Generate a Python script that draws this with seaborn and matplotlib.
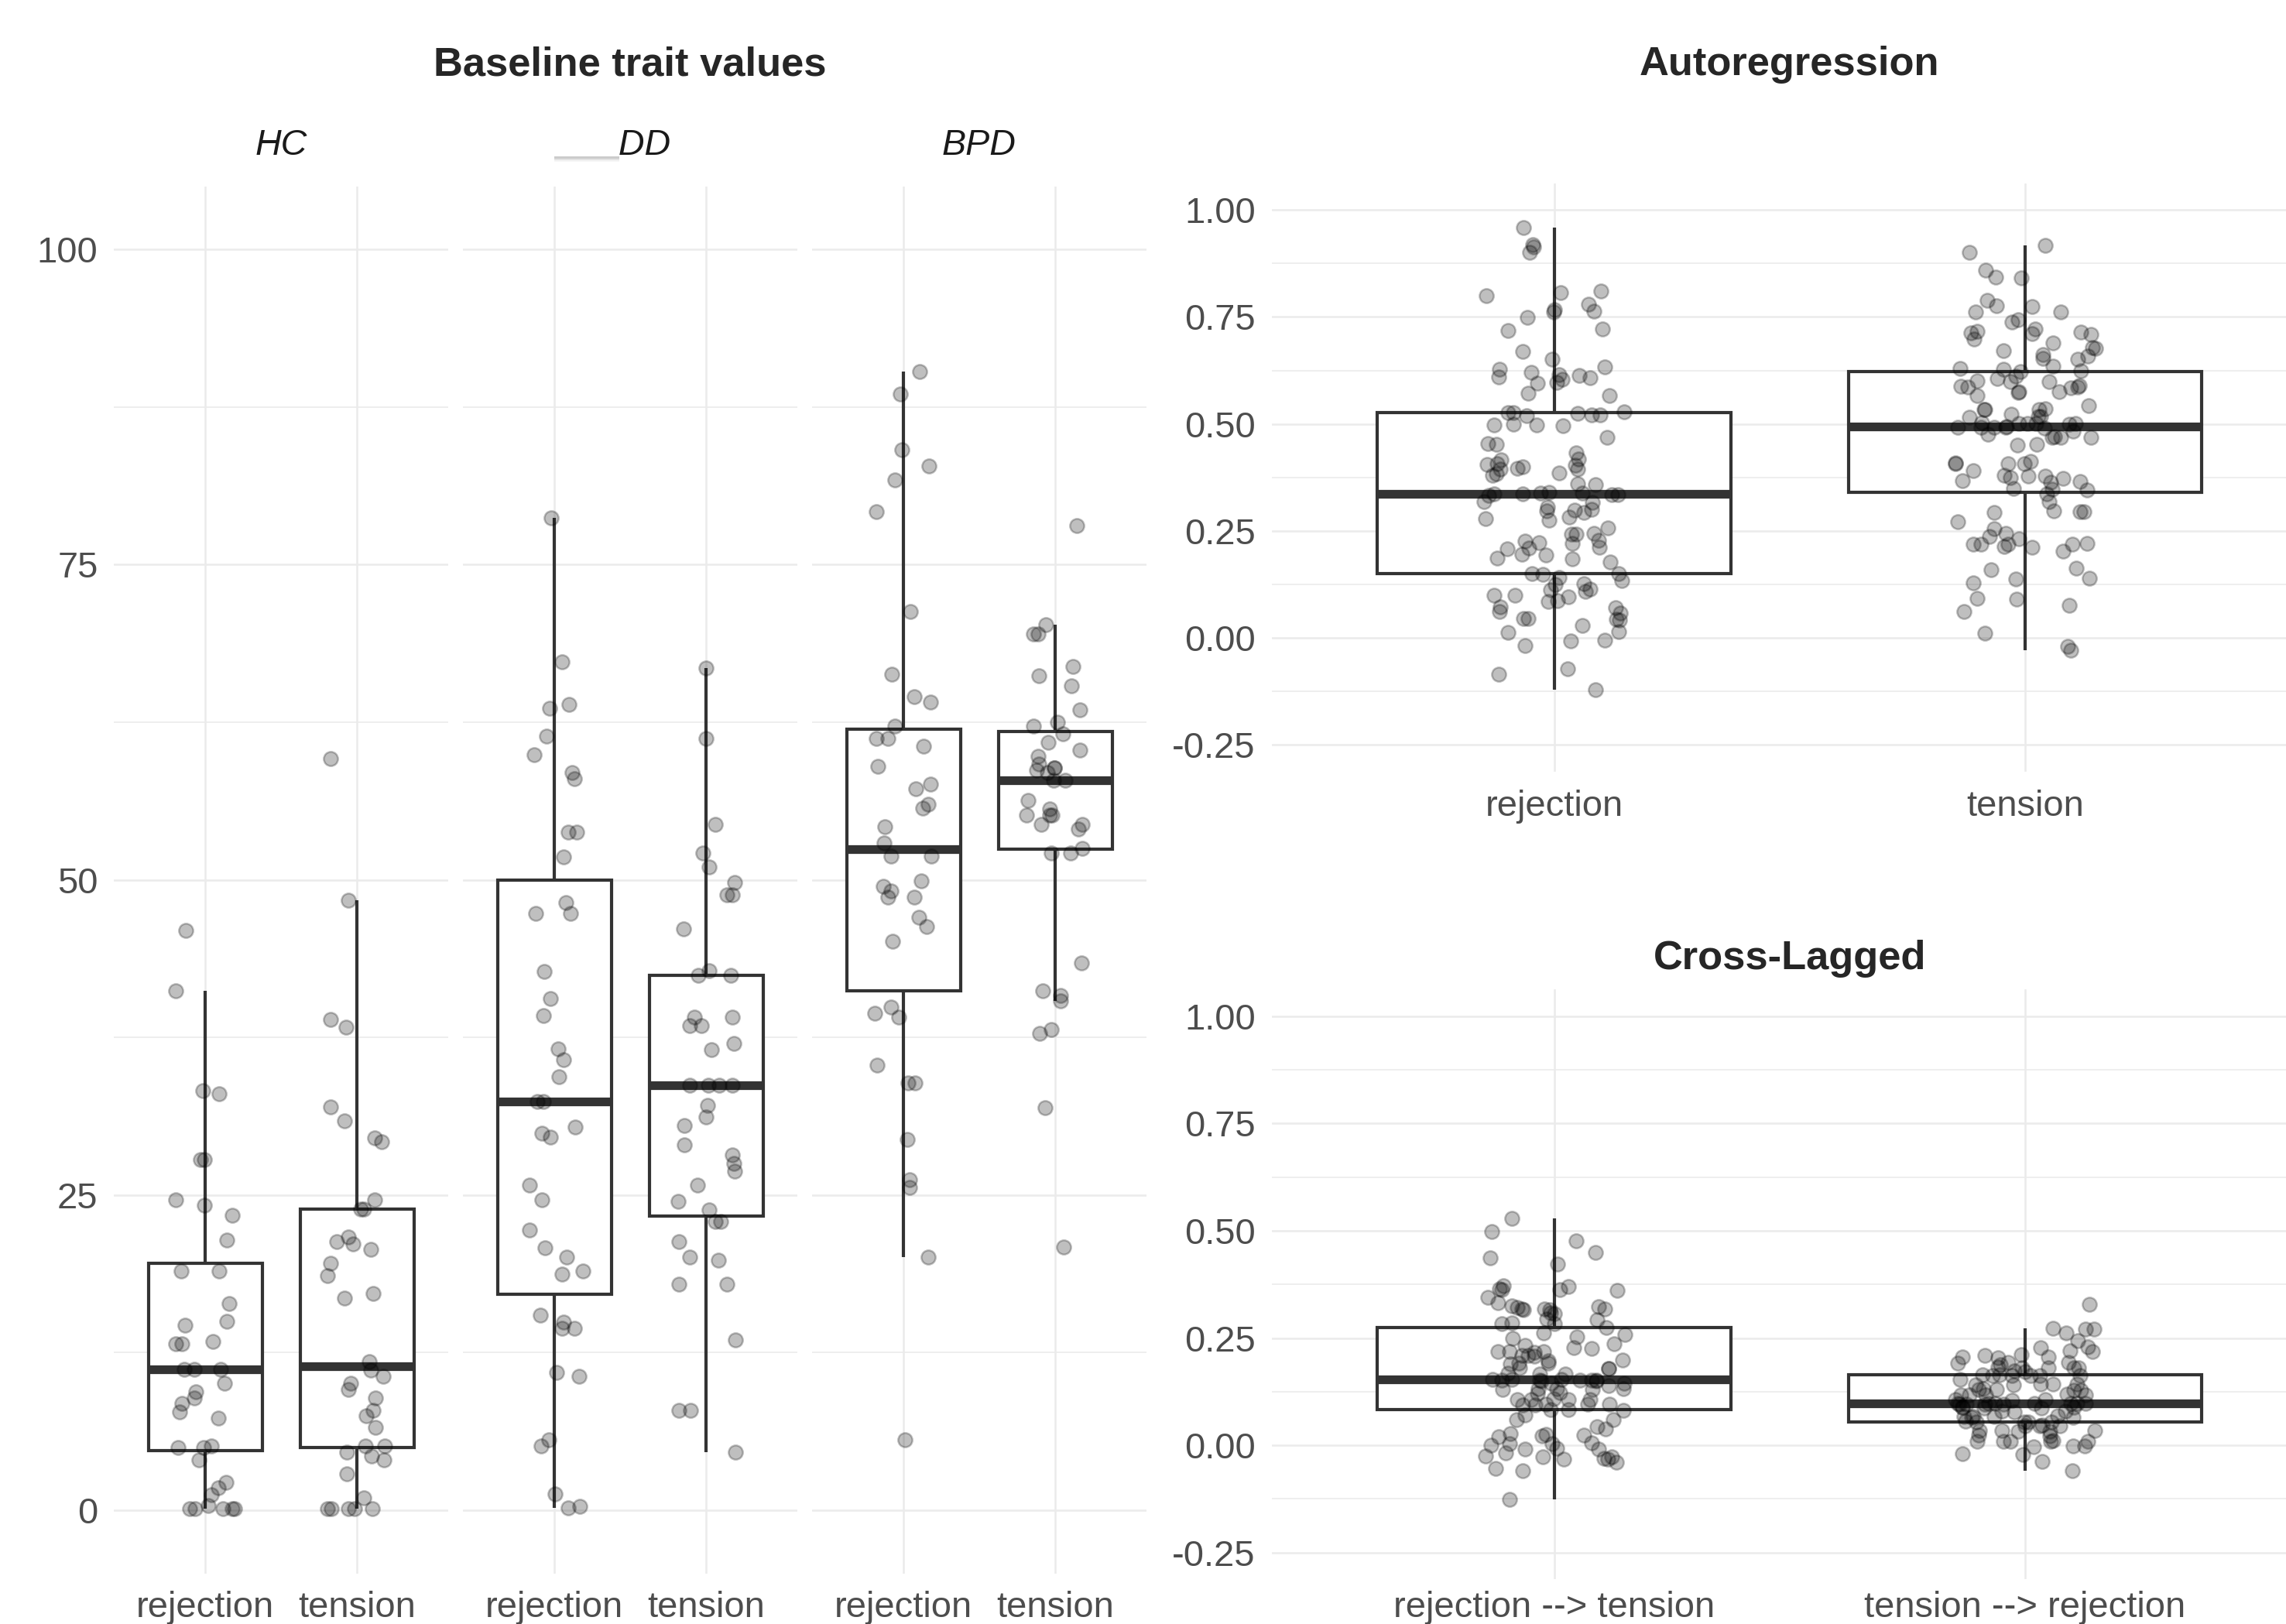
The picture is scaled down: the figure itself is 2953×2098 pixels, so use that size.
import numpy as np
import pandas as pd
import seaborn as sns
import matplotlib.pyplot as plt
from matplotlib.patches import Rectangle
from matplotlib.ticker import FixedLocator

# ===== Dados =====
groups = ["HC", "MDD", "BPD"]
traits = ["rejection", "tension"]
paths = ["rejection --> tension", "tension --> rejection"]

hc_rejection = [46.0, 41.2, 33.3, 33.0, 27.8, 27.8, 24.6, 24.2, 23.4, 21.4, 19.0, 19.0,
                16.4, 15.0, 14.7, 13.4, 13.2, 13.2, 11.2, 11.2, 11.2, 10.1, 9.4, 8.9,
                8.5, 7.8, 7.3, 5.1, 5.0, 5.0, 4.0, 2.2, 1.8, 1.2, 0.4, 0.1, 0.1, 0.1, 0.1, 0.1]
hc_tension = [59.6, 48.4, 38.9, 38.3, 32.0, 30.9, 29.5, 29.2, 24.6, 23.9, 23.9, 21.7,
              21.3, 21.1, 20.7, 19.6, 18.6, 17.2, 16.8, 11.8, 11.1, 10.6, 10.1, 9.6,
              8.9, 7.9, 7.5, 6.6, 5.1, 5.1, 4.6, 4.3, 4.0, 2.9, 1.0, 0.1, 0.1, 0.1, 0.1, 0.1]
mdd_rejection = [78.7, 67.3, 63.9, 63.6, 61.4, 59.9, 58.5, 58.0, 53.8, 53.8, 51.8, 48.2,
                 47.3, 47.3, 42.7, 40.6, 39.2, 36.6, 35.7, 34.4, 32.4, 32.4, 30.4, 29.9,
                 29.6, 25.8, 24.6, 22.2, 20.8, 20.1, 19.0, 18.7, 15.5, 14.9, 14.4, 14.4,
                 10.9, 10.6, 5.6, 5.1, 1.3, 0.3, 0.2]
mdd_tension = [66.8, 61.2, 54.4, 52.1, 51.0, 49.8, 48.8, 48.8, 46.1, 42.8, 42.4, 42.4,
               39.1, 39.1, 38.4, 38.4, 37.0, 36.5, 33.7, 33.7, 33.7, 33.7, 32.1, 31.2,
               30.5, 29.0, 28.2, 27.5, 26.9, 25.8, 24.5, 23.8, 22.9, 22.9, 21.3, 20.1,
               19.8, 17.9, 17.9, 13.5, 7.9, 7.9, 4.6]
bpd_rejection = [90.3, 88.5, 84.1, 82.8, 81.7, 79.2, 71.3, 66.3, 64.5, 64.1, 62.2, 61.2,
                 61.2, 60.6, 59.0, 57.6, 57.2, 56.0, 55.7, 54.2, 52.9, 51.9, 51.9, 49.9,
                 49.5, 49.1, 48.6, 48.6, 47.0, 46.3, 45.1, 39.9, 39.4, 39.1, 35.3, 33.9,
                 33.9, 29.4, 26.2, 25.6, 20.1, 5.6]
bpd_tension = [78.1, 70.2, 69.5, 69.5, 66.9, 66.2, 65.4, 63.5, 62.5, 62.2, 61.6, 60.9,
               60.3, 59.8, 59.2, 58.9, 58.9, 58.7, 58.5, 57.9, 57.9, 56.3, 55.6, 55.1,
               55.1, 55.1, 54.4, 54.4, 54.0, 52.5, 52.1, 52.1, 43.4, 41.2, 40.8, 40.4,
               38.1, 37.8, 31.9, 20.9]

ar_rejection = [0.958, 0.919, 0.914, 0.901, 0.810, 0.806, 0.799, 0.779, 0.767, 0.763,
                0.761, 0.749, 0.722, 0.718, 0.669, 0.651, 0.633, 0.627, 0.620, 0.616,
                0.614, 0.609, 0.608, 0.605, 0.597, 0.596, 0.572, 0.567, 0.529, 0.527,
                0.527, 0.525, 0.522, 0.521, 0.520, 0.499, 0.498, 0.497, 0.496, 0.468,
                0.454, 0.452, 0.432, 0.418, 0.416, 0.408, 0.405, 0.404, 0.400, 0.396,
                0.395, 0.394, 0.386, 0.384, 0.380, 0.361, 0.358, 0.340, 0.339, 0.338,
                0.337, 0.336, 0.335, 0.334, 0.333, 0.318, 0.316, 0.306, 0.300, 0.299,
                0.297, 0.294, 0.282, 0.278, 0.276, 0.258, 0.244, 0.243, 0.242, 0.229,
                0.227, 0.223, 0.221, 0.211, 0.210, 0.208, 0.196, 0.194, 0.187, 0.185,
                0.177, 0.151, 0.150, 0.149, 0.141, 0.135, 0.127, 0.125, 0.115, 0.113,
                0.108, 0.100, 0.099, 0.096, 0.088, 0.086, 0.073, 0.071, 0.061, 0.059,
                0.046, 0.045, 0.044, 0.042, 0.030, 0.015, 0.013, -0.005, -0.007, -0.018,
                -0.072, -0.084, -0.120]
ar_tension = [0.917, 0.900, 0.860, 0.843, 0.841, 0.788, 0.776, 0.774, 0.762, 0.761,
              0.744, 0.738, 0.722, 0.716, 0.715, 0.713, 0.711, 0.709, 0.698, 0.689,
              0.678, 0.676, 0.671, 0.662, 0.659, 0.654, 0.652, 0.635, 0.630, 0.628,
              0.624, 0.622, 0.611, 0.606, 0.600, 0.599, 0.598, 0.589, 0.588, 0.587,
              0.586, 0.585, 0.576, 0.575, 0.574, 0.566, 0.542, 0.535, 0.534, 0.533,
              0.533, 0.523, 0.518, 0.517, 0.516, 0.503, 0.502, 0.502, 0.501, 0.501,
              0.500, 0.494, 0.493, 0.493, 0.492, 0.492, 0.491, 0.484, 0.475, 0.470,
              0.469, 0.468, 0.468, 0.452, 0.450, 0.412, 0.409, 0.408, 0.408, 0.407,
              0.391, 0.380, 0.379, 0.378, 0.375, 0.373, 0.368, 0.366, 0.364, 0.350,
              0.347, 0.345, 0.337, 0.319, 0.296, 0.295, 0.295, 0.294, 0.271, 0.256,
              0.244, 0.238, 0.232, 0.221, 0.220, 0.220, 0.219, 0.219, 0.213, 0.211,
              0.202, 0.163, 0.160, 0.140, 0.138, 0.128, 0.093, 0.091, 0.076, 0.061,
              0.012, -0.020, -0.029]

cl_rejection = [0.529, 0.498, 0.476, 0.449, 0.437, 0.422, 0.372, 0.370, 0.365, 0.363,
                0.362, 0.361, 0.344, 0.332, 0.324, 0.323, 0.322, 0.318, 0.317, 0.317,
                0.316, 0.316, 0.309, 0.307, 0.294, 0.292, 0.285, 0.284, 0.283, 0.275,
                0.261, 0.259, 0.252, 0.250, 0.236, 0.233, 0.228, 0.226, 0.219, 0.218,
                0.218, 0.217, 0.210, 0.209, 0.208, 0.198, 0.196, 0.192, 0.191, 0.190,
                0.180, 0.179, 0.178, 0.168, 0.167, 0.166, 0.154, 0.153, 0.153, 0.152,
                0.152, 0.152, 0.151, 0.151, 0.150, 0.150, 0.145, 0.144, 0.140, 0.132,
                0.131, 0.131, 0.130, 0.130, 0.123, 0.121, 0.108, 0.107, 0.107, 0.106,
                0.106, 0.096, 0.095, 0.095, 0.094, 0.094, 0.084, 0.083, 0.082, 0.071,
                0.060, 0.059, 0.044, 0.038, 0.027, 0.025, 0.024, 0.022, 0.020, 0.006,
                0.004, 0.003, 0.001, -0.007, -0.008, -0.009, -0.017, -0.025, -0.026,
                -0.027, -0.031, -0.032, -0.033, -0.040, -0.053, -0.059, -0.126]
cl_tension = [0.328, 0.272, 0.271, 0.270, 0.262, 0.244, 0.230, 0.228, 0.221, 0.219,
              0.212, 0.210, 0.206, 0.205, 0.204, 0.194, 0.193, 0.192, 0.187, 0.182,
              0.181, 0.181, 0.180, 0.180, 0.173, 0.171, 0.164, 0.164, 0.163, 0.163,
              0.163, 0.162, 0.162, 0.154, 0.143, 0.142, 0.142, 0.141, 0.141, 0.131,
              0.130, 0.130, 0.129, 0.129, 0.119, 0.118, 0.118, 0.117, 0.117, 0.107,
              0.106, 0.105, 0.098, 0.098, 0.097, 0.097, 0.097, 0.097, 0.097, 0.096,
              0.096, 0.096, 0.096, 0.089, 0.088, 0.088, 0.087, 0.087, 0.080, 0.079,
              0.078, 0.068, 0.067, 0.067, 0.067, 0.066, 0.066, 0.056, 0.055, 0.055,
              0.055, 0.054, 0.047, 0.046, 0.046, 0.045, 0.035, 0.034, 0.034, 0.033,
              0.033, 0.023, 0.021, 0.011, 0.010, 0.010, 0.010, 0.009, 0.009, -0.001,
              -0.002, -0.003, -0.019, -0.021, -0.038, -0.059]

left_yticks = [0, 25, 50, 75, 100]
left_yminor = [12.5, 37.5, 62.5, 87.5]
right_yticks = [-0.25, 0.0, 0.25, 0.50, 0.75, 1.00]
right_ylabels = ["-0.25", "0.00", "0.25", "0.50", "0.75", "1.00"]
right_yminor = [-0.125, 0.125, 0.375, 0.625, 0.875]

# ===== Tabelas longas =====
rows = []
for grp, rej, ten in zip(groups, [hc_rejection, mdd_rejection, bpd_rejection],
                         [hc_tension, mdd_tension, bpd_tension]):
    rows += [(grp, traits[0], v) for v in rej]
    rows += [(grp, traits[1], v) for v in ten]
baseline = pd.DataFrame(rows, columns=["group", "trait", "value"])

autoreg = pd.DataFrame({
    "trait": [traits[0]] * len(ar_rejection) + [traits[1]] * len(ar_tension),
    "value": ar_rejection + ar_tension,
})
cross = pd.DataFrame({
    "path": [paths[0]] * len(cl_rejection) + [paths[1]] * len(cl_tension),
    "value": cl_rejection + cl_tension,
})

# ===== Estilo =====
sns.set_style("white")
plt.rcParams["font.family"] = ["Liberation Sans", "DejaVu Sans"]

W, H, DPI = 2953, 2098, 300
GRID = "#EBEBEB"
LINE = "#333333"
TICK = "#4D4D4D"
np.random.seed(11)

fig = plt.figure(figsize=(W / DPI, H / DPI), dpi=DPI)


def pos(x0, top, width, bottom):
    return [x0 / W, 1 - bottom / H, width / W, (bottom - top) / H]


def draw_panel(ax, df, x, order, jitter, xpad=5.5):
    sns.boxplot(data=df, x=x, y="value", order=order, ax=ax, width=0.75,
                color="white", linecolor=LINE, linewidth=1.0,
                showfliers=False, showcaps=False,
                medianprops=dict(linewidth=2.7, color=LINE))
    sns.stripplot(data=df, x=x, y="value", order=order, ax=ax, jitter=jitter,
                  color="black", alpha=0.25, size=4.4, linewidth=0.6,
                  edgecolor="black", zorder=3)
    ax.set_xlim(-0.6, 1.6)
    ax.set_xlabel("")
    ax.set_ylabel("")
    ax.set_axisbelow(True)
    ax.grid(which="major", color=GRID, linewidth=0.6)
    ax.grid(which="minor", axis="y", color=GRID, linewidth=0.4)
    for s in ax.spines.values():
        s.set_visible(False)
    ax.tick_params(axis="both", which="both", length=0, labelsize=11.3,
                   labelcolor=TICK)
    ax.tick_params(axis="x", pad=xpad)
    ax.tick_params(axis="y", pad=5.0)


# ===== Painéis da esquerda: valores basais =====
facet_x0 = [147.4, 598.4, 1049.4]
facet_w = 431.2
for i, grp in enumerate(groups):
    ax = fig.add_axes(pos(facet_x0[i], 240.5, facet_w, 2032.5))
    draw_panel(ax, baseline[baseline["group"] == grp], "trait", traits, 0.2)
    ax.set_ylim(-5, 105)
    ax.yaxis.set_major_locator(FixedLocator(left_yticks))
    ax.yaxis.set_minor_locator(FixedLocator(left_yminor))
    if i > 0:
        ax.tick_params(axis="y", labelleft=False)
    fig.text((facet_x0[i] + facet_w / 2) / W, 1 - 200 / H, grp, ha="center",
             va="baseline", fontsize=11.2, style="italic", color="#1A1A1A")

fig.text((147.4 + 1480.6) / 2 / W, 1 - 97 / H, "Baseline trait values",
         ha="center", va="baseline", fontsize=12.6, fontweight="bold")

# ===== Painéis da direita =====
right_x0, right_w = 1642.6, 1338.5
for df, x, order, top, bottom, title, title_y, xpad in [
        (autoreg, "trait", traits, 236.6, 997.0, "Autoregression", 97, 5.5),
        (cross, "path", paths, 1278.0, 2040.4, "Cross-Lagged", 1252, 3.4)]:
    ax = fig.add_axes(pos(right_x0, top, right_w, bottom))
    draw_panel(ax, df, x, order, 0.15, xpad)
    ax.set_ylim(-0.3125, 1.0625)
    ax.yaxis.set_major_locator(FixedLocator(right_yticks))
    ax.yaxis.set_minor_locator(FixedLocator(right_yminor))
    ax.set_yticklabels(right_ylabels)
    fig.text((right_x0 + right_w / 2) / W, 1 - title_y / H, title, ha="center",
             va="baseline", fontsize=12.6, fontweight="bold")

# ===== Caixa branca sobre o rótulo MDD (como na imagem original) =====
for k, a in [(7, 0.04), (5, 0.07), (3, 0.10)]:
    fig.add_artist(Rectangle((716 / W, 1 - (202 + k) / H), 84 / W,
                             (63 + k) / H, transform=fig.transFigure,
                             facecolor="black", alpha=a, edgecolor="none", zorder=9))
fig.add_artist(Rectangle((715 / W, 1 - 202 / H), 85 / W, 63 / H,
                         transform=fig.transFigure, facecolor="white",
                         edgecolor="none", zorder=10))

fig.savefig("out.png", dpi=DPI)
plt.close(fig)
